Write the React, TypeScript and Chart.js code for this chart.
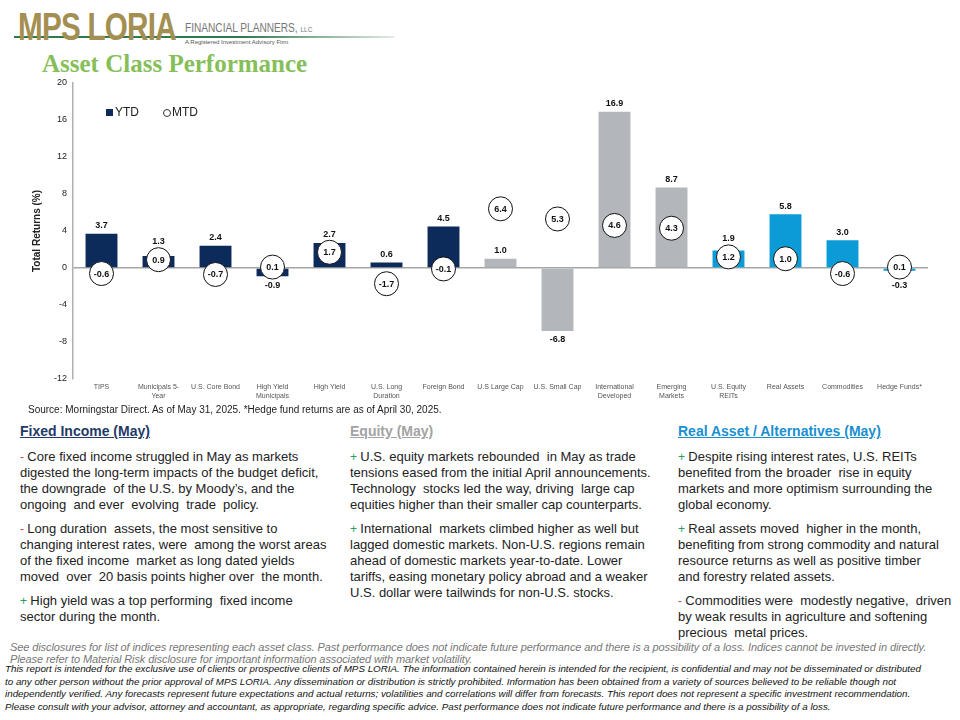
import React, { useEffect, useRef } from "react";
import { Chart, registerables } from "chart.js";

Chart.register(...registerables);

const categories: (string | string[])[] = [
  "TIPS",
  ["Municipals 5-", "Year"],
  "U.S. Core Bond",
  ["High Yield", "Municipals"],
  "High Yield",
  ["U.S. Long", "Duration"],
  "Foreign Bond",
  "U.S Large Cap",
  "U.S. Small Cap",
  ["International", "Developed"],
  ["Emerging", "Markets"],
  ["U.S. Equity", "REITs"],
  "Real Assets",
  "Commodities",
  "Hedge Funds*",
];
const assetGroups = [
  "fixed", "fixed", "fixed", "fixed", "fixed", "fixed", "fixed",
  "equity", "equity", "equity", "equity",
  "real", "real", "real", "real",
];
const ytdReturns = [3.7, 1.3, 2.4, -0.9, 2.7, 0.6, 4.5, 1.0, -6.8, 16.9, 8.7, 1.9, 5.8, 3.0, -0.3];
const mtdReturns = [-0.6, 0.9, -0.7, 0.1, 1.7, -1.7, -0.1, 6.4, 5.3, 4.6, 4.3, 1.2, 1.0, -0.6, 0.1];
const yMin = -12;
const yMax = 20;
const yStep = 4;

const groupColors: Record<string, string> = {
  fixed: "#0d2b5a",
  equity: "#b3b6ba",
  real: "#0b9bd7",
};

type Para = { sign: "+" | "-"; lines: string[] };
const fixedIncomeText: Para[] = [
  { sign: "-", lines: ["Core fixed income struggled in May as markets", "digested the long-term impacts of the budget deficit,", "the downgrade  of the U.S. by Moody’s, and the", "ongoing  and ever  evolving  trade  policy."] },
  { sign: "-", lines: ["Long duration  assets, the most sensitive to", "changing interest rates, were  among the worst areas", "of the fixed income  market as long dated yields", "moved  over  20 basis points higher over  the month."] },
  { sign: "+", lines: ["High yield was a top performing  fixed income", "sector during the month."] },
];
const equityText: Para[] = [
  { sign: "+", lines: ["U.S. equity markets rebounded  in May as trade", "tensions eased from the initial April announcements.", "Technology  stocks led the way, driving  large cap", "equities higher than their smaller cap counterparts."] },
  { sign: "+", lines: ["International  markets climbed higher as well but", "lagged domestic markets. Non-U.S. regions remain", "ahead of domestic markets year-to-date. Lower", "tariffs, easing monetary policy abroad and a weaker", "U.S. dollar were tailwinds for non-U.S. stocks."] },
];
const realAssetText: Para[] = [
  { sign: "+", lines: ["Despite rising interest rates, U.S. REITs", "benefited from the broader  rise in equity", "markets and more optimism surrounding the", "global economy."] },
  { sign: "+", lines: ["Real assets moved  higher in the month,", "benefiting from strong commodity and natural", "resource returns as well as positive timber", "and forestry related assets."] },
  { sign: "-", lines: ["Commodities were  modestly negative,  driven", "by weak results in agriculture and softening", "precious  metal prices."] },
];
const disclosureGray = [
  "See disclosures for list of indices representing each asset class. Past performance does not indicate future performance and there is a possibility of a loss. Indices cannot be invested in directly.",
  "Please refer to Material Risk disclosure for important information associated with market volatility.",
];
const disclosureBlack = [
  "This report is intended for the exclusive use of clients or prospective clients of MPS LORIA. The information contained herein is intended for the recipient, is confidential and may not be disseminated or distributed",
  "to any other person without the prior approval of MPS LORIA. Any dissemination or distribution is strictly prohibited. Information has been obtained from a variety of sources believed to be reliable though not",
  "independently verified. Any forecasts represent future expectations and actual returns; volatilities and correlations will differ from forecasts. This report does not represent a specific investment recommendation.",
  "Please consult with your advisor, attorney and accountant, as appropriate, regarding specific advice. Past performance does not indicate future performance and there is a possibility of a loss.",
];

const FONT = "'Liberation Sans', Arial, Helvetica, sans-serif";

const labelPlugin = {
  id: "valueLabels",
  afterDatasetsDraw(chart: any) {
    const ctx = chart.ctx;
    const lineMeta = chart.getDatasetMeta(0);
    const barMeta = chart.getDatasetMeta(1);
    const r = 12;
    ctx.save();
    ctx.font = `bold 9px ${FONT}`;
    ctx.fillStyle = "#111";
    ctx.textAlign = "center";
    ctx.textBaseline = "middle";
    barMeta.data.forEach((bar: any, i: number) => {
      const v = ytdReturns[i];
      const cy = lineMeta.data[i].y;
      let y: number;
      if (v >= 0) {
        y = bar.y - 8;
        if (Math.abs(cy - y) < 18) y = Math.min(y, cy - r - 6);
      } else {
        y = bar.y + 9;
        if (Math.abs(cy - y) < 18) y = Math.max(y, cy + r + 6);
      }
      ctx.fillText(v.toFixed(1), bar.x, y);
    });
    lineMeta.data.forEach((pt: any, i: number) => {
      ctx.fillText(mtdReturns[i].toFixed(1), pt.x, pt.y + 0.5);
    });
    ctx.restore();
  },
};

function ChartBox() {
  const ref = useRef<HTMLCanvasElement | null>(null);
  useEffect(() => {
    if (!ref.current) return;
    Chart.defaults.font.family = FONT;
    const chart = new Chart(ref.current, {
      type: "bar",
      data: {
        labels: categories as any,
        datasets: [
          {
            type: "line",
            label: "MTD",
            data: mtdReturns,
            showLine: false,
            pointRadius: 12,
            pointHoverRadius: 12,
            pointBackgroundColor: "#ffffff",
            pointBorderColor: "#111111",
            pointBorderWidth: 1,
            order: 0,
          } as any,
          {
            type: "bar",
            label: "YTD",
            data: ytdReturns,
            backgroundColor: assetGroups.map((g) => groupColors[g]),
            barPercentage: 0.56,
            categoryPercentage: 1,
            order: 1,
          },
        ],
      },
      options: {
        responsive: false,
        animation: false,
        devicePixelRatio: 1,
        layout: { padding: { left: 27, right: 32, top: 12, bottom: 0 } },
        plugins: { legend: { display: false }, tooltip: { enabled: false } },
        scales: {
          x: {
            grid: { display: false, drawTicks: false },
            border: { display: false },
            ticks: {
              autoSkip: false,
              maxRotation: 0,
              minRotation: 0,
              padding: 4,
              color: "#555",
              font: { size: 7, lineHeight: 1.25 },
            },
            afterFit: (s: any) => {
              s.height = 31;
            },
          },
          y: {
            min: yMin,
            max: yMax,
            ticks: { stepSize: yStep, color: "#222", padding: 6, font: { size: 9 } },
            grid: {
              drawTicks: false,
              color: (c: any) => (c.tick && c.tick.value === 0 ? "#a6a6a6" : "rgba(0,0,0,0)"),
              lineWidth: 1.5,
            },
            border: { display: true, color: "#b0b0b0", width: 1.5 },
            title: {
              display: true,
              text: "Total Returns (%)",
              color: "#222",
              font: { size: 10, weight: "bold" },
              padding: { top: 4, bottom: 0 },
            },
            afterFit: (s: any) => {
              s.width = 46;
            },
          },
        },
      },
      plugins: [labelPlugin],
    });
    return () => chart.destroy();
  }, []);
  return (
    <canvas
      ref={ref}
      width={960}
      height={340}
      style={{ position: "absolute", left: 0, top: 70, width: 960, height: 340 }}
    />
  );
}

function Column({ left, top, title, color, paras }: { left: number; top: number; title: string; color: string; paras: Para[] }) {
  return (
    <div style={{ position: "absolute", left, top, fontFamily: FONT, color: "#222" }}>
      <div style={{ fontSize: 14, fontWeight: "bold", lineHeight: "18px", color, textDecoration: "underline", whiteSpace: "nowrap" }}>{title}</div>
      <div style={{ height: 9 }} />
      {paras.map((p, i) => (
        <div key={i} style={{ marginBottom: 8, fontSize: 13, lineHeight: "16px", whiteSpace: "pre" }}>
          {p.lines.map((l, j) => (
            <div key={j}>
              {j === 0 ? (
                <span style={{ color: p.sign === "+" ? "#2e9b5e" : "#d04a3a", fontSize: 12 }}>{p.sign} </span>
              ) : null}
              {l}
            </div>
          ))}
        </div>
      ))}
    </div>
  );
}

export default function App() {
  return (
    <div style={{ position: "absolute", left: 0, top: 0, width: 960, height: 720, background: "#fff", overflow: "hidden", fontFamily: FONT }}>
      {/* header */}
      <div style={{ position: "absolute", left: 14, top: 36, width: 380, height: 2, background: "linear-gradient(to right, #2f7a4a 0%, #2f7a4a 60%, rgba(47,122,74,0.15) 100%)" }} />
      <div style={{ position: "absolute", left: 18, top: 5, fontSize: 39, fontWeight: "bold", color: "#a38f52", transform: "scale(0.76, 1)", transformOrigin: "left top", whiteSpace: "nowrap", lineHeight: "44px", letterSpacing: -1 }}>
        MPS LORIA
      </div>
      <div style={{ position: "absolute", left: 185, top: 20, fontSize: 11, color: "#777", fontFamily: "'Liberation Sans Narrow', 'Liberation Sans', Arial", whiteSpace: "nowrap", lineHeight: "14px", transform: "scale(0.92, 1.1)", transformOrigin: "left top" }}>
        FINANCIAL PLANNERS, <span style={{ fontSize: 7 }}>LLC</span>
      </div>
      <div style={{ position: "absolute", left: 185, top: 38, fontSize: 6, color: "#555", whiteSpace: "nowrap", lineHeight: "8px" }}>
        A Registered Investment Advisory Firm
      </div>
      <div style={{ position: "absolute", left: 42, top: 49, fontSize: 25, fontWeight: "bold", color: "#86bf5a", fontFamily: "'Liberation Serif', 'Times New Roman', serif", whiteSpace: "nowrap", lineHeight: "30px" }}>
        Asset Class Performance
      </div>

      <ChartBox />

      {/* legend */}
      <div style={{ position: "absolute", left: 106, top: 104, height: 16, fontSize: 12, color: "#222", whiteSpace: "nowrap", lineHeight: "16px" }}>
        <span style={{ display: "inline-block", width: 7, height: 7, background: groupColors.fixed, marginRight: 2, verticalAlign: "middle" }} />
        <span>YTD</span>
        <span style={{ display: "inline-block", width: 6, height: 6, border: "1px solid #333", borderRadius: "50%", marginLeft: 24, marginRight: 1, verticalAlign: "middle" }} />
        <span>MTD</span>
      </div>

      <div style={{ position: "absolute", left: 28, top: 404, fontSize: 10, color: "#222", whiteSpace: "nowrap", lineHeight: "12px" }}>
        Source: Morningstar Direct. As of May 31, 2025. *Hedge fund returns are as of April 30, 2025.
      </div>

      <Column left={20} top={422} title="Fixed Income (May)" color="#1f3a68" paras={fixedIncomeText} />
      <Column left={350} top={422} title="Equity (May)" color="#a3a3a3" paras={equityText} />
      <Column left={678} top={422} title="Real Asset / Alternatives (May)" color="#1a8fd0" paras={realAssetText} />

      <div style={{ position: "absolute", left: 10, top: 641, fontSize: 11, fontStyle: "italic", color: "#777", lineHeight: "12px", whiteSpace: "nowrap", letterSpacing: -0.1 }}>
        {disclosureGray.map((l, i) => (
          <div key={i}>{l}</div>
        ))}
      </div>
      <div style={{ position: "absolute", left: 5, top: 663, fontSize: 9.8, fontStyle: "italic", color: "#111", lineHeight: "12.7px", whiteSpace: "nowrap", fontFamily: "'Liberation Sans Narrow', 'Liberation Sans', Arial" }}>
        {disclosureBlack.map((l, i) => (
          <div key={i}>{l}</div>
        ))}
      </div>
    </div>
  );
}
